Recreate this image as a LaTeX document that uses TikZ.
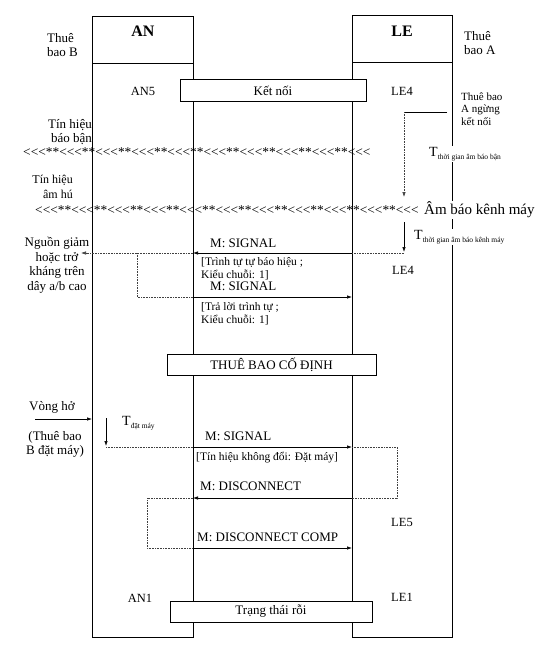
\documentclass[tikz,border=0pt]{standalone}
\usepackage{fontspec}
\setmainfont{Liberation Serif}
\usetikzlibrary{arrows.meta}
\newcommand\grp{<\kern0pt<\kern0pt<\kern0pt}
\newcommand\tsub[1]{{\fontsize{7.5}{8}\selectfont\raisebox{-2.5pt}{#1}}}
\begin{document}
\begin{tikzpicture}[x=1pt,y=-1pt,
  lbl/.style={font=\fontsize{13}{14.5}\selectfont, inner sep=0pt},
  sm/.style={font=\fontsize{11.5}{13}\selectfont, inner sep=0pt, align=left},
  hdr/.style={font=\fontsize{16}{18}\selectfont\bfseries, inner sep=0pt},
  frame/.style={line width=0.8pt},
  boxn/.style={draw, line width=0.8pt, fill=white, font=\fontsize{13}{15}\selectfont, inner sep=0pt},
  msg/.style={line width=0.7pt, -{Latex[length=5pt,width=3.5pt]}},
  dotl/.style={line width=0.6pt, densely dotted, black!75},
  dotarr/.style={dotl, -{Latex[length=5pt,width=3.5pt]}},
]
\useasboundingbox (0,0) rectangle (540,649);
\fill[white] (0,0) rectangle (540,649);

% frames
\node[draw, frame, minimum width=101pt, minimum height=621pt, inner sep=0pt] (anbox) at (142.5,326.5) {};
\node[draw, frame, minimum width=100pt, minimum height=622pt, inner sep=0pt] (lebox) at (402,326) {};
\coordinate (and1) at (92,63); \coordinate (and2) at (193,63);
\coordinate (led1) at (352,62); \coordinate (led2) at (452,62);
\draw[frame] (and1) -- (and2);
\draw[frame] (led1) -- (led2);
\node[hdr] (anh) at (143,31) {AN};
\node[hdr] (leh) at (402,31) {LE};

% state boxes
\node[boxn, minimum width=186pt, minimum height=22pt] (ketnoi) at (273,90.5) {Kết nối};
\node[boxn, minimum width=209pt, minimum height=21pt] (codinh) at (271.5,364.5) {THUÊ BAO CỐ ĐỊNH};
\node[boxn, minimum width=202pt, minimum height=21pt] (roi) at (271,611.5) {Trạng thái rỗi};

% side labels
\node[lbl, align=left, anchor=west] (tbB) at (47,45) {Thuê\\bao B};
\node[lbl, align=left, anchor=west] (tbA) at (464,43) {Thuê\\bao A};
\node[font=\fontsize{11}{12.5}\selectfont, inner sep=0pt, align=left, anchor=west] (ngung) at (461,109) {Thuê bao\\A ngừng\\kết nối};
\node[font=\fontsize{12.5}{14}\selectfont, inner sep=0pt] (an5) at (143,91) {AN5};
\node[font=\fontsize{12.5}{14}\selectfont, inner sep=0pt] (le4) at (402,91) {LE4};
\node[lbl, align=right, anchor=east] (tbban) at (92,132) {Tín hiệu\\báo bận};
\node[font=\fontsize{12}{14.5}\selectfont, inner sep=0pt, align=right, anchor=east] (amhu) at (73,187) {Tín hiệu\\âm hú};

% tone rows
\node[font=\fontsize{13.4}{15}\selectfont, inner sep=0pt, anchor=west] (row1) at (23,152) {\grp**\grp**\grp**\grp**\grp**\grp**\grp**\grp**\grp**\grp};
\node[font=\fontsize{13.4}{15}\selectfont, inner sep=0pt, anchor=west] (row2) at (35,210) {\grp**\grp**\grp**\grp**\grp**\grp**\grp**\grp**\grp**\grp**\grp};
\node[font=\fontsize{15}{17}\selectfont, anchor=west, fill=white, inner sep=1pt] (ambao) at (423,210) {Âm báo kênh máy};
\node[font=\fontsize{14}{16}\selectfont, anchor=west, fill=white, inner sep=1pt] (tban) at (428,154) {T\tsub{thời gian âm báo bận}};
\node[font=\fontsize{14}{16}\selectfont, anchor=west, fill=white, inner sep=1pt] (tkenh) at (413,237) {T\tsub{thời gian âm báo kênh máy}};

% A hangs up arrow
\coordinate (hA) at (447,112); \coordinate (hB) at (404,112); \coordinate (hC) at (404,197);
\draw[line width=0.6pt] (hA) -- (hB);
\draw[dotarr] (hB) -- (hC);
\coordinate (kA) at (404,222); \coordinate (kB) at (404,252);
\draw[msg] (kA) -- (kB);

% first signal exchange
\coordinate (s1r) at (404,253); \coordinate (s1le) at (352,253); \coordinate (s1an) at (193,253);
\coordinate (s1l) at (81,253); \coordinate (s1v) at (137,253);
\coordinate (s2v) at (137,297); \coordinate (s2an) at (193,297); \coordinate (s2le) at (352,297);
\draw[dotl] (s1r) -- (s1le);
\draw[msg] (s1le) -- (s1an);
\draw[dotarr] (s1an) -- (s1l);
\draw[dotl] (s1v) -- (s2v) -- (s2an);
\draw[msg] (s2an) -- (s2le);

\node[lbl, align=center] (nguon) at (57,265) {Nguồn giảm\\hoặc trở\\kháng trên\\dây a/b cao};
\node[lbl, anchor=west] (m1) at (210,243) {M: SIGNAL};
\node[sm, anchor=west] (b1) at (201,268.5) {[Trình tự tự báo hiệu ;\\Kiểu chuỗi: 1]};
\node[lbl, anchor=west] (m2) at (210,286) {M: SIGNAL};
\node[sm, anchor=west] (b2) at (201,313.5) {[Trả lời trình tự ;\\Kiểu chuỗi: 1]};
\node[font=\fontsize{12.5}{14}\selectfont, inner sep=0pt] (le4b) at (403,270) {LE4};

% hang-up of B
\node[lbl] (vong) at (52,407) {Vòng hở};
\node[lbl, align=center] (bdat) at (55,444.5) {(Thuê bao\\B đặt máy)};
\coordinate (vA) at (35,419); \coordinate (vB) at (92,419);
\draw[msg] (vA) -- (vB);
\node[font=\fontsize{14}{16}\selectfont, inner sep=0pt, anchor=west] (tdat) at (122,423) {T\tsub{đặt máy}};
\coordinate (dA) at (106,418); \coordinate (dB) at (106,446);
\draw[msg] (dA) -- (dB);

\coordinate (p1) at (106,447); \coordinate (p2) at (193,447); \coordinate (p3) at (352,447);
\coordinate (p4) at (397,447); \coordinate (p5) at (397,498); \coordinate (p6) at (352,498);
\coordinate (p7) at (193,498); \coordinate (p8) at (147,498); \coordinate (p9) at (147,548);
\coordinate (p10) at (193,548); \coordinate (p11) at (352,548);
\draw[dotl] (p1) -- (p2);
\draw[msg] (p2) -- (p3);
\draw[dotl] (p3) -- (p4) -- (p5) -- (p6);
\draw[msg] (p6) -- (p7);
\draw[dotl] (p7) -- (p8) -- (p9) -- (p10);
\draw[msg] (p10) -- (p11);

\node[lbl, anchor=west] (m3) at (205,436) {M: SIGNAL};
\node[sm, anchor=west] (b3) at (196,458) {[Tín hiệu không đổi: Đặt máy]};
\node[lbl, anchor=west] (m4) at (200,486) {M: DISCONNECT};
\node[lbl, anchor=west] (m5) at (197,537) {M: DISCONNECT COMP};
\node[font=\fontsize{12.5}{14}\selectfont, inner sep=0pt] (le5) at (402,522) {LE5};
\node[font=\fontsize{12.5}{14}\selectfont, inner sep=0pt] (an1) at (140,598) {AN1};
\node[font=\fontsize{12.5}{14}\selectfont, inner sep=0pt] (le1) at (402,597) {LE1};
\end{tikzpicture}
\end{document}
